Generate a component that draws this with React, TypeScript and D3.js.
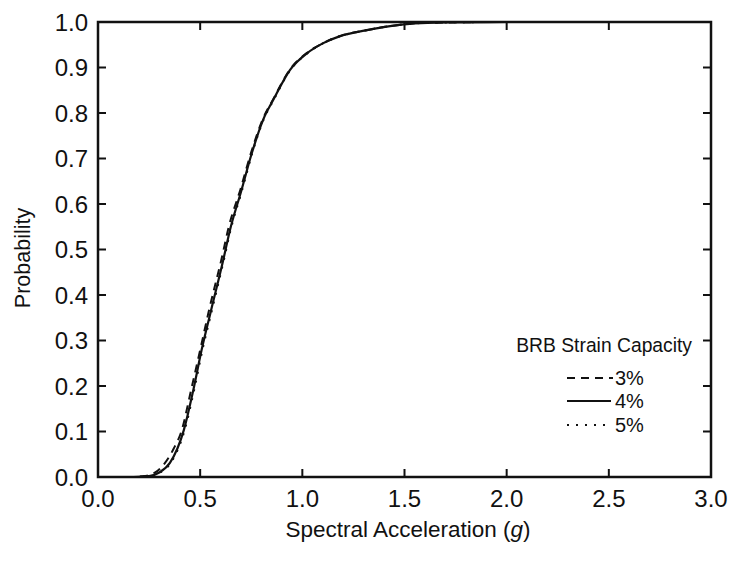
import React from "react";
import * as d3 from "d3";

const xTicks = [0, 0.5, 1.0, 1.5, 2.0, 2.5, 3.0];
const yTicks = [0, 0.1, 0.2, 0.3, 0.4, 0.5, 0.6, 0.7, 0.8, 0.9, 1.0];

const sa4 = [0, 0.15, 0.2, 0.25, 0.3, 0.352, 0.42, 0.466, 0.507, 0.55, 0.613, 0.646, 0.7, 0.753, 0.808, 0.858, 0.94, 1.022, 1.1, 1.185, 1.315, 1.43, 1.55, 1.7, 2.0, 3.0];
const p4 = [0, 0, 0.0005, 0.002, 0.01, 0.031, 0.103, 0.19, 0.279, 0.36, 0.477, 0.543, 0.627, 0.712, 0.785, 0.829, 0.895, 0.931, 0.953, 0.969, 0.982, 0.991, 0.997, 0.999, 1.0, 1.0];

const sa3 = [0, 0.15, 0.2, 0.24, 0.28, 0.328, 0.37, 0.41, 0.455, 0.5, 0.545, 0.605, 0.64, 0.697, 0.75, 0.806, 0.857, 0.94, 1.022, 1.1, 1.185, 1.315, 1.43, 1.55, 1.7, 2.0, 3.0];
const p3 = [0, 0, 0.0007, 0.003, 0.01, 0.031, 0.062, 0.103, 0.19, 0.279, 0.37, 0.48, 0.55, 0.632, 0.714, 0.786, 0.83, 0.896, 0.932, 0.953, 0.969, 0.982, 0.991, 0.997, 0.999, 1.0, 1.0];

const sa5 = [0, 0.15, 0.2, 0.255, 0.305, 0.356, 0.424, 0.47, 0.511, 0.554, 0.616, 0.649, 0.703, 0.755, 0.81, 0.86, 0.942, 1.024, 1.1, 1.185, 1.315, 1.43, 1.55, 1.7, 2.0, 3.0];
const p5 = [0, 0, 0.0005, 0.002, 0.01, 0.031, 0.103, 0.19, 0.279, 0.36, 0.477, 0.543, 0.627, 0.712, 0.785, 0.829, 0.895, 0.931, 0.953, 0.969, 0.982, 0.991, 0.997, 0.999, 1.0, 1.0];

const seriesNames = ["3%", "4%", "5%"];
const legendTitle = "BRB Strain Capacity";

const W = 735, H = 562;
const L = 98, R = 711, T = 22, B = 477;

export default function App() {
  const x = d3.scaleLinear().domain([0, 3]).range([L, R]);
  const y = d3.scaleLinear().domain([0, 1]).range([B, T]);
  const line = d3
    .line<[number, number]>()
    .x((d) => x(d[0]))
    .y((d) => y(d[1]))
    .curve(d3.curveMonotoneX);
  const mk = (xs: number[], ps: number[]) => xs.map((v, i) => [v, ps[i]] as [number, number]);
  const series = [
    { name: seriesNames[0], d: line(mk(sa3, p3)), dash: "8,6", w: 2 },
    { name: seriesNames[1], d: line(mk(sa4, p4)), dash: undefined, w: 2.2 },
    { name: seriesNames[2], d: line(mk(sa5, p5)), dash: "2,7", w: 2 },
  ];
  const font = "'Liberation Sans', Arial, sans-serif";
  const stroke = "#111";
  const tk = 8;
  const legY = [378, 401, 425];
  return (
    <svg width={W} height={H} style={{ position: "absolute", left: 0, top: 0, background: "#fff" }} fontFamily={font}>
      <rect x={0} y={0} width={W} height={H} fill="#fff" />
      {series.map((s, i) => (
        <path key={i} d={s.d || ""} fill="none" stroke={stroke} strokeWidth={s.w} strokeDasharray={s.dash} />
      ))}
      <rect x={L} y={T} width={R - L} height={B - T} fill="none" stroke={stroke} strokeWidth={2.5} />
      {xTicks.map((t, i) => (
        <g key={"x" + i}>
          {i > 0 && i < xTicks.length - 1 && (
            <>
              <line x1={x(t)} x2={x(t)} y1={B} y2={B - tk} stroke={stroke} strokeWidth={2} />
              <line x1={x(t)} x2={x(t)} y1={T} y2={T + tk} stroke={stroke} strokeWidth={2} />
            </>
          )}
          <text x={x(t)} y={507} textAnchor="middle" fontSize={24} fill={stroke}>
            {t.toFixed(1)}
          </text>
        </g>
      ))}
      {yTicks.map((t, i) => (
        <g key={"y" + i}>
          {i > 0 && i < yTicks.length - 1 && (
            <>
              <line x1={L} x2={L + tk} y1={y(t)} y2={y(t)} stroke={stroke} strokeWidth={2} />
              <line x1={R} x2={R - tk} y1={y(t)} y2={y(t)} stroke={stroke} strokeWidth={2} />
            </>
          )}
          <text x={88} y={y(t) + 8.5} textAnchor="end" fontSize={24} fill={stroke}>
            {t.toFixed(1)}
          </text>
        </g>
      ))}
      <text x={408} y={537} textAnchor="middle" fontSize={22.5} fill={stroke}>
        Spectral Acceleration (<tspan fontStyle="italic">g</tspan>)
      </text>
      <text transform={`translate(30,258) rotate(-90)`} textAnchor="middle" fontSize={21.5} fill={stroke}>
        Probability
      </text>
      <text x={692} y={352} textAnchor="end" fontSize={19.3} fill={stroke}>
        {legendTitle}
      </text>
      {series.map((s, i) => (
        <g key={"l" + i}>
          <line x1={567} x2={i === 0 ? 613 : i === 1 ? 611 : 607} y1={legY[i]} y2={legY[i]} stroke={stroke} strokeWidth={2} strokeDasharray={s.dash} />
          <text x={615} y={legY[i] + 6.5} fontSize={20} fill={stroke}>
            {s.name}
          </text>
        </g>
      ))}
    </svg>
  );
}
